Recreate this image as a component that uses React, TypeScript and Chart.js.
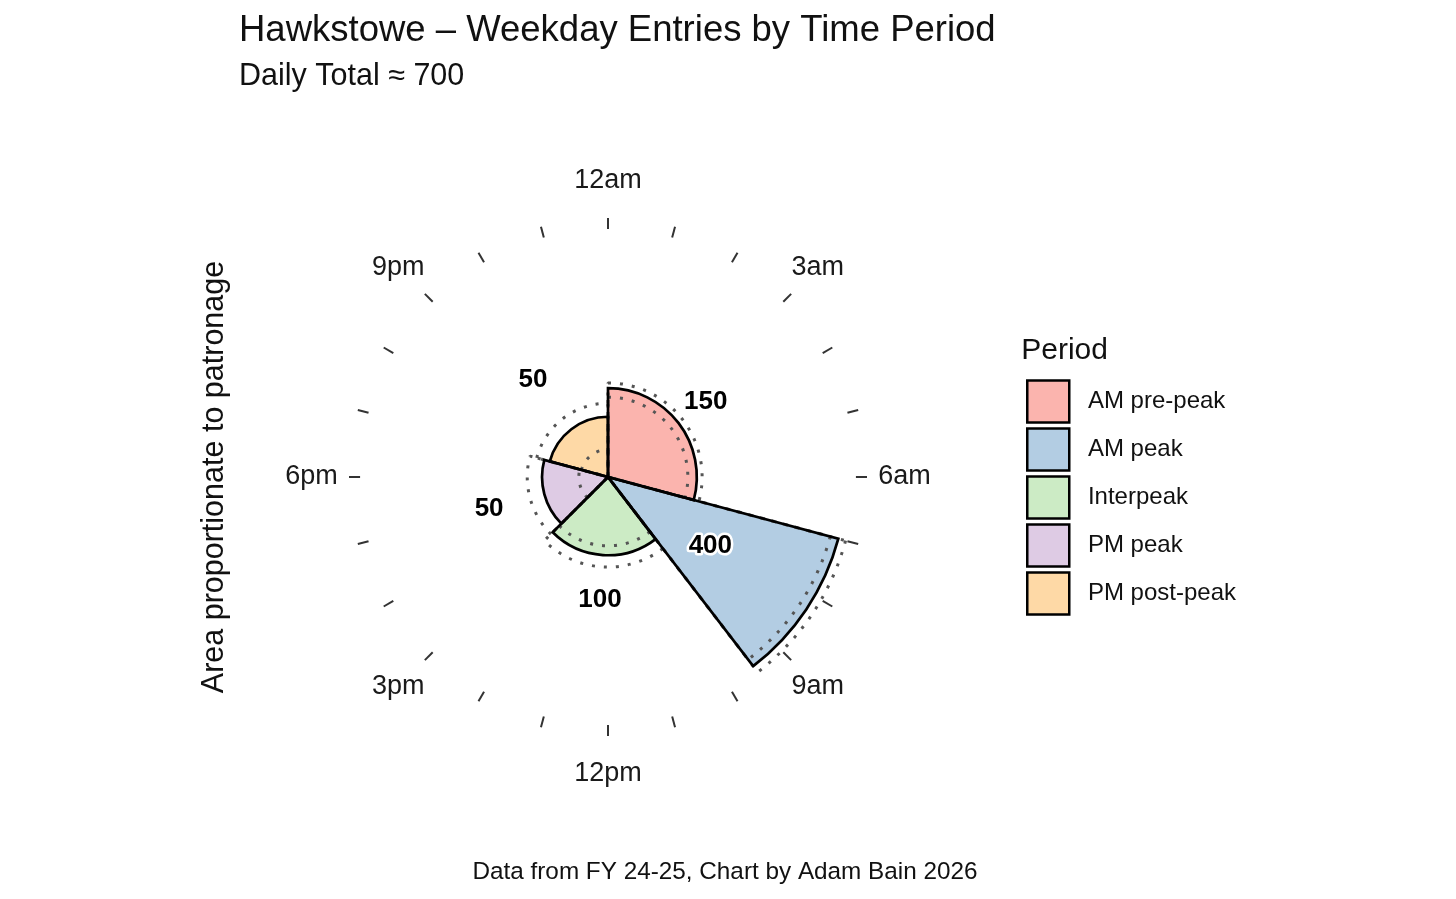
import { useEffect, useRef } from 'react';
import { Chart, registerables } from 'chart.js';
import type { Plugin } from 'chart.js';

Chart.register(...registerables);

const FONT = '"Liberation Sans", Arial, sans-serif';

// periods run clockwise from midnight
const periods = ['AM pre-peak', 'AM peak', 'Interpeak', 'PM peak', 'PM post-peak'];
const periodHours = [7, 2.5, 5.5, 4, 5];
const entries = [146, 376, 89, 46, 48];
// dotted outlines (busiest / quietest weekday)
const highEntries = [164, 400, 118, 69, 72];
const lowEntries = [118, 350, 69, 9, 10];
const fillColours = ['#FBB4AE', '#B3CDE3', '#CCEBC5', '#DECBE4', '#FED9A6'];
const clockLabels = ['12am', '3am', '6am', '9am', '12pm', '3pm', '6pm', '9pm'];

// radial positions of decorations, in scale units
const TICK_FROM = 12.75;
const TICK_TO = 13.32;
const CLOCK_LABEL_R = 15.25;
const VALUE_LABEL_R = 6.33;

// area proportional to patronage: radius = sqrt(entries / hours)
const toRadius = (vals: number[]) => vals.map((v, i) => Math.sqrt(v / periodHours[i]));
const wedgeAngles = periodHours.map(h => h * 15);
const dailyTotal = entries.reduce((a, b) => a + b, 0);

const clockFace: Plugin<'polarArea'> = {
  id: 'clockFace',
  afterDraw(chart) {
    const { ctx } = chart;
    const scale: any = chart.scales.r;
    const cx = scale.xCenter;
    const cy = scale.yCenter;
    const rad = (v: number) => scale.getDistanceFromCenterForValue(v);
    const top = -Math.PI / 2;

    ctx.save();

    // hour ticks
    ctx.strokeStyle = '#333';
    ctx.lineWidth = 2;
    for (let h = 0; h < 24; h++) {
      const a = top + (h / 24) * Math.PI * 2;
      ctx.beginPath();
      ctx.moveTo(cx + Math.cos(a) * rad(TICK_FROM), cy + Math.sin(a) * rad(TICK_FROM));
      ctx.lineTo(cx + Math.cos(a) * rad(TICK_TO), cy + Math.sin(a) * rad(TICK_TO));
      ctx.stroke();
    }

    // clock labels every 3 hours
    ctx.font = `27px ${FONT}`;
    ctx.fillStyle = '#1a1a1a';
    ctx.textAlign = 'center';
    ctx.textBaseline = 'middle';
    clockLabels.forEach((t, i) => {
      const a = top + (i / clockLabels.length) * Math.PI * 2;
      ctx.fillText(t, cx + Math.cos(a) * rad(CLOCK_LABEL_R), cy + Math.sin(a) * rad(CLOCK_LABEL_R));
    });

    // rounded value labels at each wedge's mid angle
    const meta = chart.getDatasetMeta(0);
    ctx.font = `bold 26px ${FONT}`;
    ctx.lineJoin = 'round';
    meta.data.forEach((arc: any, i) => {
      const mid = (arc.startAngle + arc.endAngle) / 2;
      const x = cx + Math.cos(mid) * rad(VALUE_LABEL_R);
      const y = cy + Math.sin(mid) * rad(VALUE_LABEL_R);
      const text = String(Math.round(entries[i] / 50) * 50);
      ctx.strokeStyle = '#fff';
      ctx.lineWidth = 5;
      ctx.strokeText(text, x, y);
      ctx.fillStyle = '#000';
      ctx.fillText(text, x, y);
    });

    // titles and caption
    ctx.textBaseline = 'alphabetic';
    ctx.textAlign = 'left';
    ctx.fillStyle = '#111';
    ctx.font = `36.5px ${FONT}`;
    ctx.fillText('Hawkstowe \u2013 Weekday Entries by Time Period', 239, 41);
    ctx.font = `30.5px ${FONT}`;
    ctx.fillText(`Daily Total \u2248 ${Math.round(dailyTotal / 100) * 100}`, 239, 85);

    ctx.textAlign = 'center';
    ctx.font = `24.3px ${FONT}`;
    ctx.fillText('Data from FY 24-25, Chart by Adam Bain 2026', 725, 879);

    ctx.translate(223, cy);
    ctx.rotate(-Math.PI / 2);
    ctx.font = `30.5px ${FONT}`;
    ctx.fillText('Area proportionate to patronage', 0, 0);

    ctx.restore();
  },
};

const App = () => {
  const canvasRef = useRef<HTMLCanvasElement | null>(null);
  const chartRef = useRef<Chart | null>(null);

  useEffect(() => {
    if (!canvasRef.current) return;
    if (chartRef.current) chartRef.current.destroy();

    const dotted = {
      backgroundColor: 'transparent',
      borderColor: '#555',
      borderWidth: 3,
      borderDash: [3, 9],
      angle: wedgeAngles,
      order: 2,
    };

    chartRef.current = new Chart(canvasRef.current, {
      type: 'polarArea',
      data: {
        labels: periods,
        datasets: [
          {
            label: 'Entries',
            data: toRadius(entries),
            backgroundColor: fillColours,
            borderWidth: 0,
            angle: wedgeAngles,
            order: 3,
          } as any,
          { label: 'High', data: toRadius(highEntries), ...dotted } as any,
          { label: 'Low', data: toRadius(lowEntries), ...dotted } as any,
          {
            label: 'Outline',
            data: toRadius(entries),
            backgroundColor: 'transparent',
            borderColor: '#000',
            borderWidth: 2.7,
            borderJoinStyle: 'miter',
            angle: wedgeAngles,
            order: 1,
          } as any,
        ],
      },
      options: {
        responsive: false,
        animation: false,
        events: [],
        layout: { padding: { left: 196, right: 210, top: 127, bottom: 72 } },
        scales: {
          r: {
            min: 0,
            max: 18,
            startAngle: 0,
            ticks: { display: false },
            grid: { display: false },
            angleLines: { display: false },
            pointLabels: { display: false },
          },
        },
        plugins: {
          tooltip: { enabled: false },
          legend: {
            position: 'right',
            align: 'center',
            title: {
              display: true,
              text: 'Period',
              position: 'start',
              color: '#111',
              font: { size: 30, family: FONT },
              padding: { top: 2, bottom: 2.8 },
            },
            labels: {
              boxWidth: 42,
              boxHeight: 42,
              padding: 6,
              color: '#1a1a1a',
              font: { size: 24, family: FONT },
              generateLabels: () =>
                periods.map((p, i) => ({
                  text: ' ' + p,
                  fillStyle: fillColours[i],
                  strokeStyle: '#000',
                  lineWidth: 2.5,
                  hidden: false,
                  index: i,
                })),
            },
          },
        },
      },
      plugins: [clockFace],
    });

    return () => {
      if (chartRef.current) {
        chartRef.current.destroy();
        chartRef.current = null;
      }
    };
  }, []);

  return (
    <div style={{ position: 'fixed', left: 0, top: 0, width: 1456, height: 899, background: '#fff' }}>
      <canvas ref={canvasRef} width={1456} height={899} />
    </div>
  );
};

export default App;
